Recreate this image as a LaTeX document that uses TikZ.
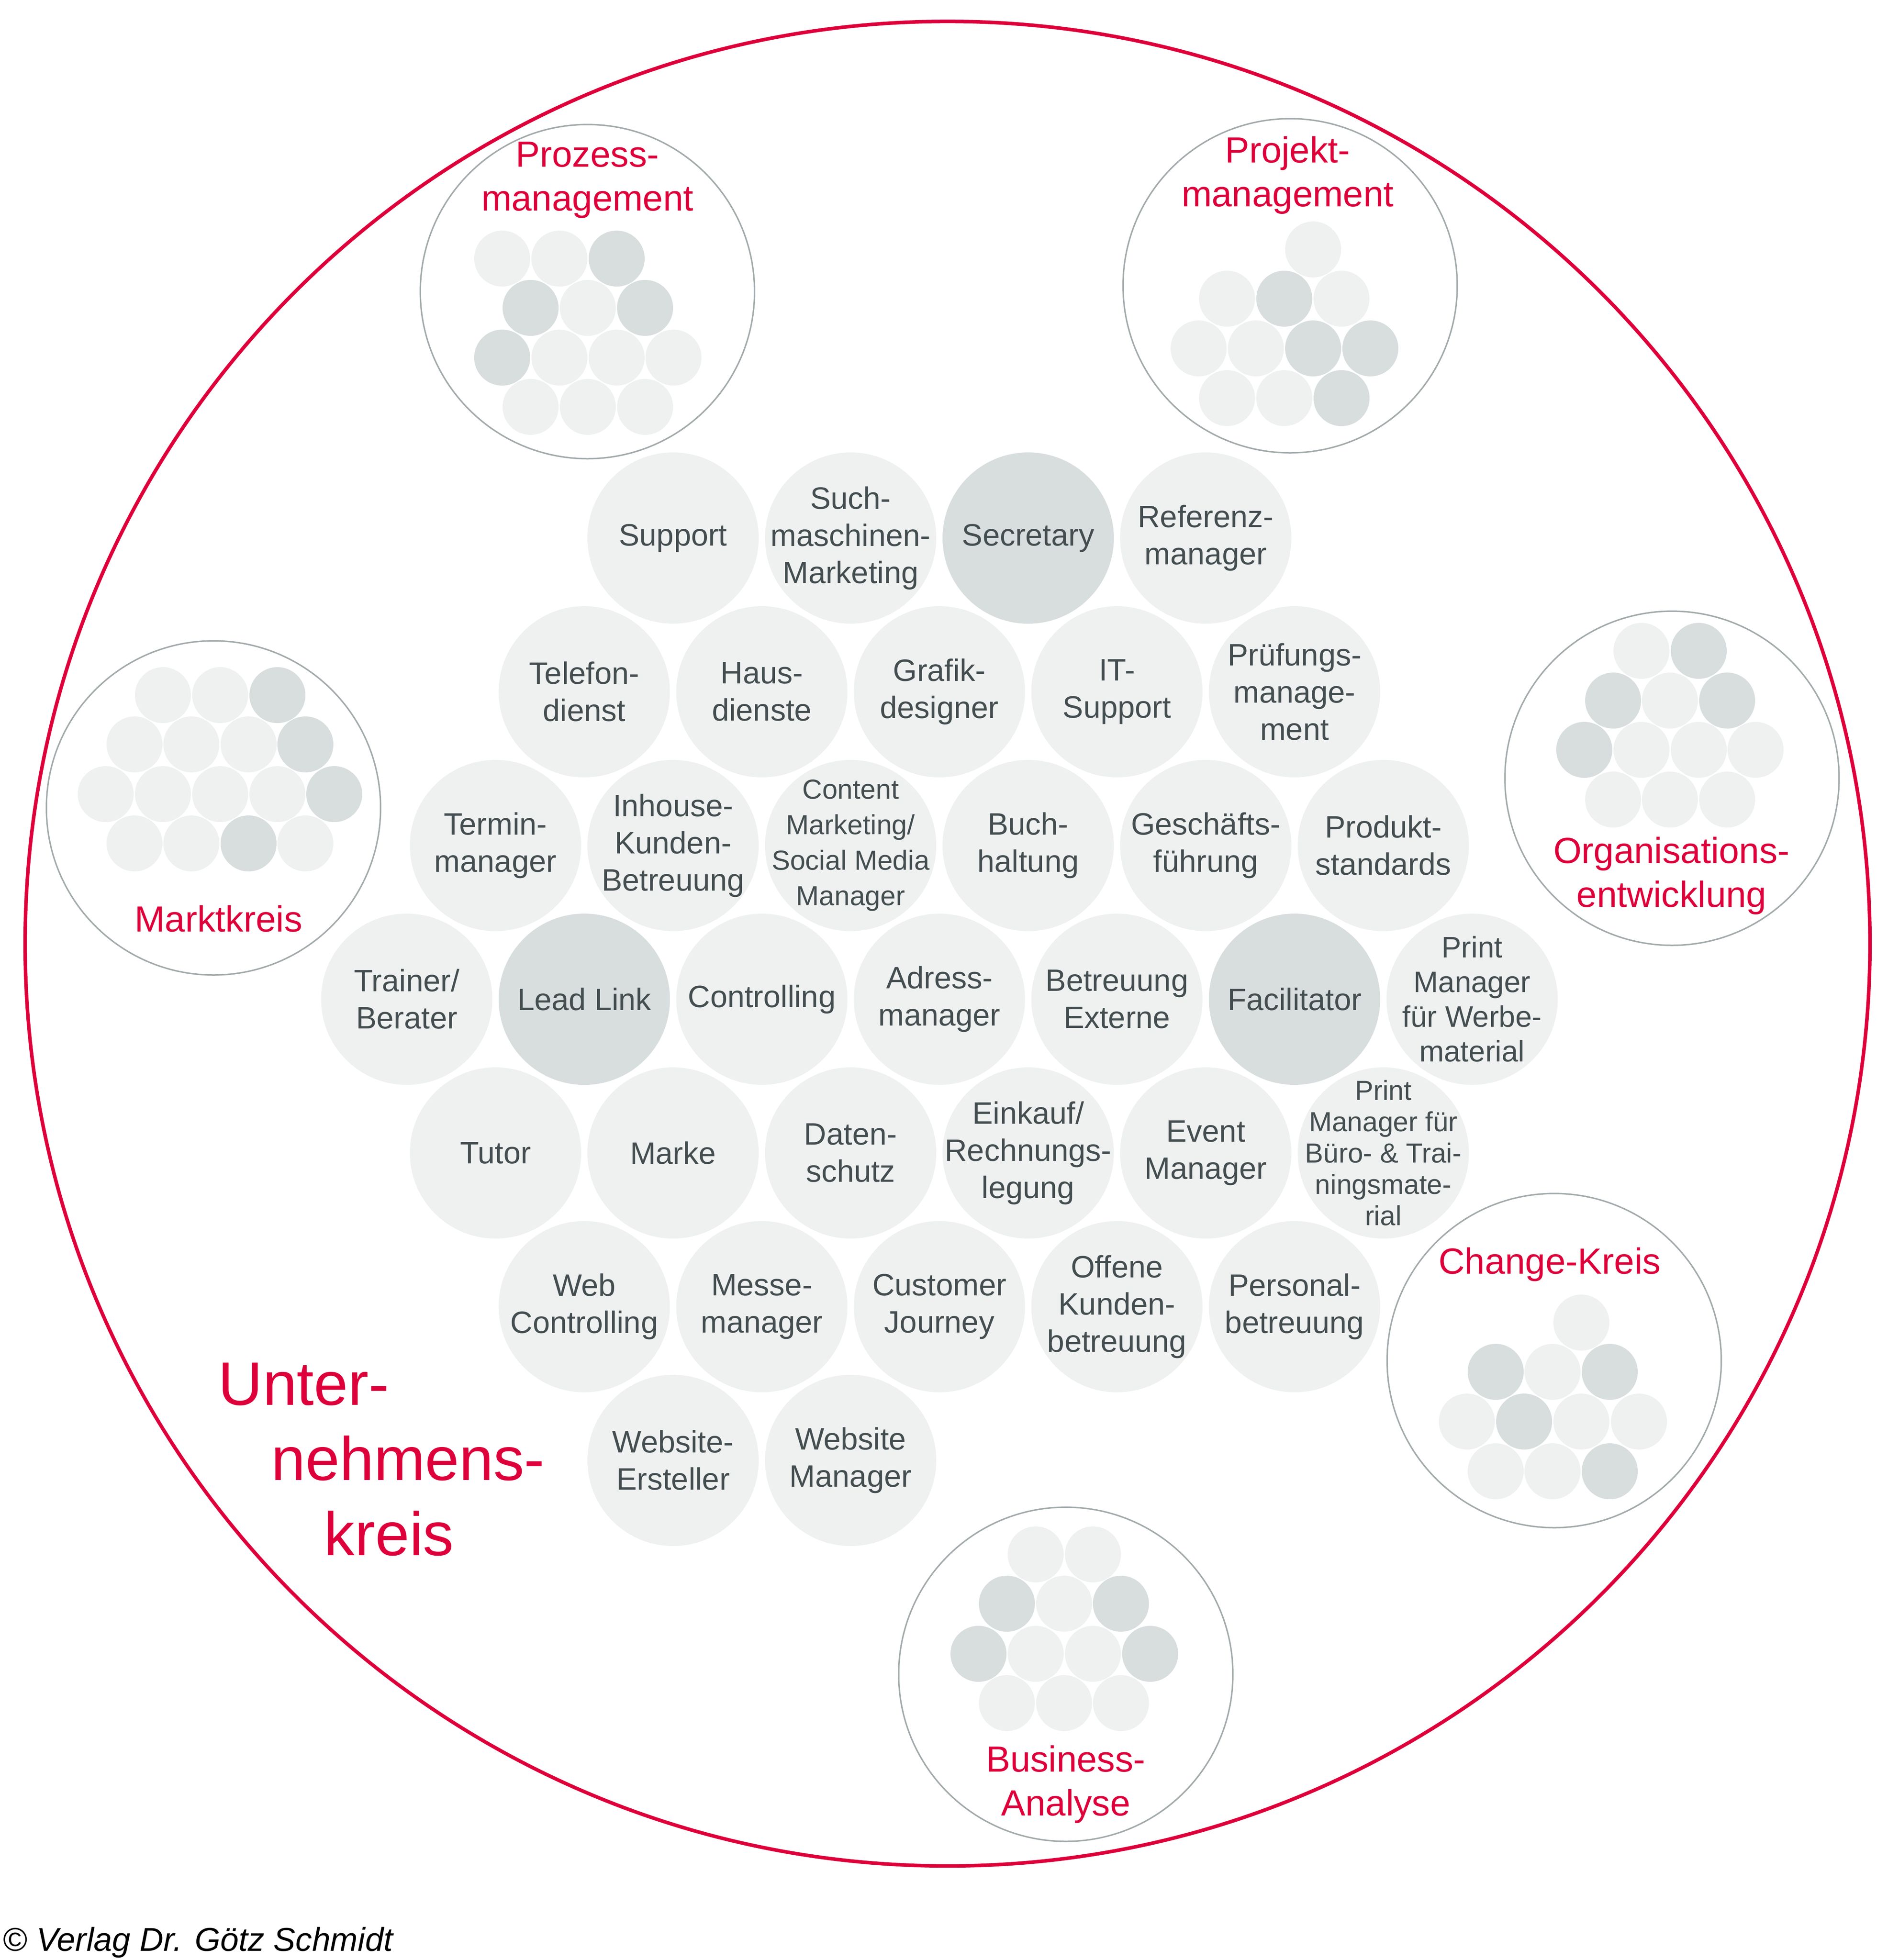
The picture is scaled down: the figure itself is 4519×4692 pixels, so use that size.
\documentclass[tikz,border=0pt]{standalone}
\usepackage{fontspec}
\setmainfont{Liberation Sans}

\definecolor{kreisrot}{RGB}{222,0,58}
\definecolor{hell}{RGB}{239,241,240}
\definecolor{dunkel}{RGB}{216,222,222}
\definecolor{rolltext}{RGB}{68,78,80}
\definecolor{kreislinie}{RGB}{163,170,172}

\tikzset{
	rolle/.style={circle, fill=hell, minimum size=41pt, inner sep=-10pt, align=center, text=rolltext, font=\fontsize{7.4pt}{8.9pt}\selectfont},
	kernrolle/.style={rolle, fill=dunkel},
	kreis/.style={circle, draw=kreislinie, line width=0.35pt, minimum size=80pt, inner sep=0pt},
	titel/.style={anchor=base, inner sep=0pt, align=center, text=kreisrot, font=\fontsize{8.7pt}{10.5pt}\selectfont}
}

\begin{document}
\begin{tikzpicture}[x=0.1pt,y=-0.1pt]
		
		\useasboundingbox (0,0) rectangle (4519,4692);
		\draw[kreisrot, line width=0.85pt] (2268,2259) circle (220.8pt);
		
		\node(K1) at (1406,698)[kreis]{};
		\node(K2) at (3088,684)[kreis]{};
		\node(K3) at (511,1934)[kreis]{};
		\node(K4) at (4002,1863)[kreis]{};
		\node(K5) at (3720,3257)[kreis]{};
		\node(K6) at (2551,4008)[kreis]{};
		\foreach \x/\y/\f in {1202/619/hell, 1339/619/hell, 1476/619/dunkel, 1270/737/dunkel, 1407/737/hell, 1544/737/dunkel,
			1202/856/dunkel, 1339/856/hell, 1476/856/hell, 1612/856/hell, 1270/974/hell, 1407/974/hell, 1544/974/hell,
			3143/597/hell, 2937/715/hell, 3074/715/dunkel, 3211/715/hell, 2869/834/hell, 3006/834/hell, 3143/834/dunkel,
			3280/834/dunkel, 2937/953/hell, 3074/953/hell, 3211/953/dunkel,
			390/1664/hell, 527/1664/hell, 664/1664/dunkel, 322/1782/hell, 458/1782/hell, 595/1782/hell, 731/1782/dunkel,
			253/1901/hell, 390/1901/hell, 527/1901/hell, 664/1901/hell, 800/1901/dunkel,
			322/2019/hell, 458/2019/hell, 595/2019/dunkel, 731/2019/hell,
			3929/1558/hell, 4066/1558/dunkel, 3861/1677/dunkel, 3997/1677/hell, 4134/1677/dunkel,
			3792/1795/dunkel, 3929/1795/hell, 4066/1795/hell, 4202/1795/hell, 3861/1914/hell, 3997/1914/hell, 4134/1914/hell,
			3785/3166/hell, 3580/3284/dunkel, 3716/3284/hell, 3853/3284/dunkel, 3511/3403/hell, 3648/3403/dunkel,
			3785/3403/hell, 3923/3403/hell, 3580/3522/hell, 3716/3522/hell, 3853/3522/dunkel,
			2479/3721/hell, 2616/3721/hell, 2410/3839/dunkel, 2547/3839/hell, 2683/3839/dunkel,
			2342/3959/dunkel, 2479/3959/hell, 2616/3959/hell, 2753/3959/dunkel, 2410/4077/hell, 2547/4077/hell, 2683/4077/hell}
			\fill[\f] (\x,\y) circle (6.7pt);
		
		\node(1) at (1611,1288)[rolle]{Support};
		\node(2) at (2036,1288)[rolle]{Such-\\maschinen-\\Marketing};
		\node(3) at (2461,1288)[kernrolle]{Secretary};
		\node(4) at (2886,1288)[rolle]{Referenz-\\manager};
		\node(5) at (1398.5,1656)[rolle]{Telefon-\\dienst};
		\node(6) at (1823.5,1656)[rolle]{Haus-\\dienste};
		\node(7) at (2248.5,1656)[rolle]{Grafik-\\designer};
		\node(8) at (2673.5,1656)[rolle]{IT-\\Support};
		\node(9) at (3098.5,1656)[rolle]{Prüfungs-\\manage-\\ment};
		\node(10) at (1186,2024)[rolle]{Termin-\\manager};
		\node(11) at (1611,2024)[rolle]{Inhouse-\\Kunden-\\Betreuung};
		\node(12) at (2036,2024)[rolle, font=\fontsize{6.6pt}{8.5pt}\selectfont]{Content\\Marketing/\\Social Media\\Manager};
		\node(13) at (2461,2024)[rolle]{Buch-\\haltung};
		\node(14) at (2886,2024)[rolle]{Geschäfts-\\führung};
		\node(15) at (3311,2024)[rolle]{Produkt-\\standards};
		\node(16) at (973.5,2392)[rolle]{Trainer/\\Berater};
		\node(17) at (1398.5,2392)[kernrolle]{Lead Link};
		\node(18) at (1823.5,2392)[rolle]{Controlling};
		\node(19) at (2248.5,2392)[rolle]{Adress-\\manager};
		\node(20) at (2673.5,2392)[rolle]{Betreuung\\Externe};
		\node(21) at (3098.5,2392)[kernrolle]{Facilitator};
		\node(22) at (3523.5,2392)[rolle, font=\fontsize{7.1pt}{8.3pt}\selectfont]{Print\\Manager\\für Werbe-\\material};
		\node(23) at (1186,2760)[rolle]{Tutor};
		\node(24) at (1611,2760)[rolle]{Marke};
		\node(25) at (2036,2760)[rolle]{Daten-\\schutz};
		\node(26) at (2461,2760)[rolle]{Einkauf/\\Rechnungs-\\legung};
		\node(27) at (2886,2760)[rolle]{Event\\Manager};
		\node(28) at (3311,2760)[rolle, font=\fontsize{6.6pt}{7.5pt}\selectfont]{Print\\Manager für\\Büro- \& Trai-\\ningsmate-\\rial};
		\node(29) at (1398.5,3128)[rolle]{Web\\Controlling};
		\node(30) at (1823.5,3128)[rolle]{Messe-\\manager};
		\node(31) at (2248.5,3128)[rolle]{Customer\\Journey};
		\node(32) at (2673.5,3128)[rolle]{Offene\\Kunden-\\betreuung};
		\node(33) at (3098.5,3128)[rolle]{Personal-\\betreuung};
		\node(34) at (1611,3496)[rolle]{Website-\\Ersteller};
		\node(35) at (2036,3496)[rolle]{Website\\Manager};
		
		\node(T1) at (1406,504)[titel]{Prozess-\\management};
		\node(T2) at (3082,494)[titel]{Projekt-\\management};
		\node(T3) at (523,2230)[titel]{Marktkreis};
		\node(T4) at (4001,2171)[titel]{Organisations-\\entwicklung};
		\node(T5) at (3709,3049)[titel]{Change-Kreis};
		\node(T6) at (2551,4346)[titel]{Business-\\Analyse};
		\node(U) at (521,3723)[titel, anchor=base west, align=left, font=\fontsize{14.7pt}{18pt}\selectfont]{Unter-\\\hspace*{12.7pt}nehmens-\\\hspace*{25.3pt}kreis};
		\node(C) at (5,4670)[anchor=base west, inner sep=0pt, font=\fontsize{7.9pt}{9pt}\selectfont\itshape]{© Verlag Dr. Götz Schmidt};
		
	\end{tikzpicture}
\end{document}
